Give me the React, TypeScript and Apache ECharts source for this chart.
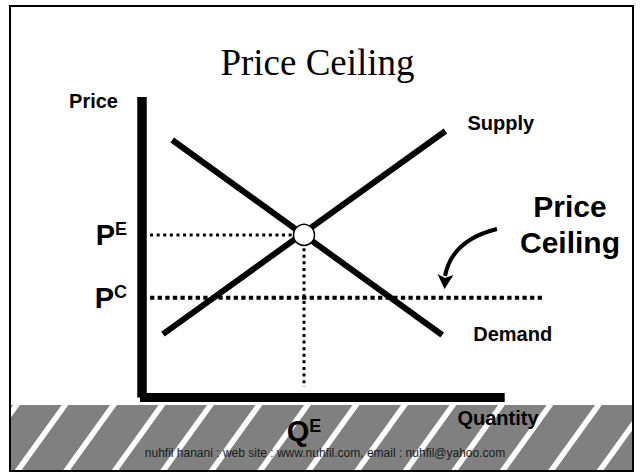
import React, { useEffect, useRef } from "react";
import * as echarts from "echarts";

// ---- data (quantity / price units) ----
const QUANTITY_MAX = 10;
const PRICE_MAX = 10;
const quantityAxisQ = [-0.05, 9];
const demandQ = [0.75, 7.45];
const demandP = [8.57, 2.08];
const supplyQ = [0.52, 7.53];
const supplyP = [2.11, 8.87];
const QE = 4.02;
const PE = 5.41;
const PC = 3.32;
const ceilingQ = [0.2, 9.97];
const equilibriumPriceLineQ = [0.2, QE];
const equilibriumQuantityLineP = [PE, 0.35];
const priceTickLabels = [
  { value: PE, sup: "E" },
  { value: PC, sup: "C" },
];
const quantityTickLabels = [{ value: QE, sup: "E" }];
const TITLE = "Price Ceiling";
const FOOTER = "nuhfil hanani : web site : www.nuhfil.com, email : nuhfil@yahoo.com";

const SANS = "'Liberation Sans', Arial, Helvetica, sans-serif";
const SERIF = "'Liberation Serif', 'Times New Roman', serif";

function buildStripes() {
  const items: any[] = [];
  const top = 405;
  const bottom = 471;
  const shift = 0.72 * (bottom - top);
  const half = 3.4;
  for (let c = 65 - 48.5 * 2; c < 720; c += 48.5) {
    items.push({
      type: "polygon",
      z: 1,
      silent: true,
      shape: {
        points: [
          [c - half, top],
          [c + half, top],
          [c + half - shift, bottom],
          [c - half - shift, bottom],
        ],
      },
      style: { fill: "#ffffff" },
    });
  }
  return items;
}

export default function App() {
  const ref = useRef<HTMLDivElement>(null);
  useEffect(() => {
    if (!ref.current) return;
    const chart = echarts.init(ref.current, undefined, { renderer: "svg" });
    const zip = (a: number[], b: number[]) => a.map((v, i) => [v, b[i]]);
    const richSup = {
      p: { fontFamily: SANS, fontWeight: "bold", fontSize: 29, lineHeight: 29, color: "#000" },
      e: {
        fontFamily: SANS,
        fontWeight: "bold",
        fontSize: 18,
        lineHeight: 20,
        verticalAlign: "top",
        color: "#000",
      },
    };
    const option: any = {
      animation: false,
      backgroundColor: "#ffffff",
      grid: { left: 142, top: 97, width: 403, height: 300.5, containLabel: false },
      xAxis: {
        type: "value",
        min: 0,
        max: QUANTITY_MAX,
        axisLine: { show: false },
        axisTick: { show: false },
        axisLabel: { show: false },
        splitLine: { show: false },
      },
      yAxis: {
        type: "value",
        min: 0,
        max: PRICE_MAX,
        axisLine: { show: true, onZero: false, lineStyle: { color: "#000", width: 9.5, cap: "butt" } },
        axisTick: { show: false },
        axisLabel: { show: false },
        splitLine: { show: false },
        name: "Price",
        nameLocation: "end",
        nameGap: -13.8,
        nameTextStyle: {
          color: "#000",
          fontFamily: SANS,
          fontWeight: "bold",
          fontSize: 20,
          align: "right",
          verticalAlign: "bottom",
          padding: [0, 24, 0, 0],
        },
      },
      series: [
        {
          name: "Quantity axis",
          type: "line",
          data: zip(quantityAxisQ, [0, 0]),
          symbol: "none",
          clip: false,
          z: 4,
          lineStyle: { color: "#000", width: 9, cap: "butt" },
        },
        {
          name: "Price ceiling",
          type: "line",
          data: zip(ceilingQ, [PC, PC]),
          symbol: "none",
          clip: false,
          z: 2,
          lineStyle: { color: "#000", width: 4, type: [4.3, 3.3], cap: "butt" },
        },
        {
          name: "Equilibrium price",
          type: "line",
          data: zip(equilibriumPriceLineQ, [PE, PE]),
          symbol: "none",
          clip: false,
          z: 2,
          lineStyle: { color: "#000", width: 3, type: [3, 3.6], cap: "butt" },
        },
        {
          name: "Equilibrium quantity",
          type: "line",
          data: zip([QE, QE], equilibriumQuantityLineP),
          symbol: "none",
          clip: false,
          z: 2,
          lineStyle: { color: "#000", width: 3, type: [3, 3.6], cap: "butt" },
        },
        {
          name: "Demand",
          type: "line",
          data: zip(demandQ, demandP),
          symbol: "none",
          clip: false,
          z: 3,
          lineStyle: { color: "#000", width: 6, cap: "butt" },
          endLabel: {
            show: true,
            formatter: "Demand",
            distance: 0,
            offset: [31, -1],
            color: "#000",
            fontFamily: SANS,
            fontWeight: "bold",
            fontSize: 20,
          },
        },
        {
          name: "Supply",
          type: "line",
          data: zip(supplyQ, supplyP),
          symbol: "none",
          clip: false,
          z: 3,
          lineStyle: { color: "#000", width: 6, cap: "butt" },
          endLabel: {
            show: true,
            formatter: "Supply",
            distance: 0,
            offset: [22, -8],
            color: "#000",
            fontFamily: SANS,
            fontWeight: "bold",
            fontSize: 20,
          },
        },
        {
          name: "Equilibrium",
          type: "scatter",
          data: [[QE, PE]],
          symbol: "circle",
          symbolSize: 21,
          clip: false,
          z: 5,
          itemStyle: { color: "#ffffff", borderColor: "#000", borderWidth: 1.5, opacity: 1 },
          emphasis: { disabled: true },
        },
        {
          name: "Price labels",
          type: "scatter",
          data: priceTickLabels.map((d) => ({ value: [0, d.value], sup: d.sup })),
          symbolSize: 0,
          clip: false,
          z: 6,
          itemStyle: { opacity: 1 },
          label: {
            show: true,
            position: "left",
            distance: 15,
            formatter: (p: any) => `{p|P}{e|${p.data.sup}}`,
            rich: richSup,
          },
        },
        {
          name: "Quantity labels",
          type: "scatter",
          data: quantityTickLabels.map((d) => ({ value: [d.value, 0], sup: d.sup })),
          symbolSize: 0,
          clip: false,
          z: 6,
          itemStyle: { opacity: 1 },
          label: {
            show: true,
            position: "bottom",
            distance: 19,
            formatter: (p: any) => `{p|Q}{e|${p.data.sup}}`,
            rich: richSup,
          },
        },
      ],
      graphic: [
        {
          type: "rect",
          z: 0,
          silent: true,
          shape: { x: 10, y: 405, width: 623, height: 66 },
          style: { fill: "#808080" },
        },
        ...buildStripes(),
        {
          type: "rect",
          z: 2,
          silent: true,
          shape: { x: 0, y: 400, width: 10, height: 74 },
          style: { fill: "#ffffff" },
        },
        {
          type: "rect",
          z: 2,
          silent: true,
          shape: { x: 633, y: 400, width: 7, height: 74 },
          style: { fill: "#ffffff" },
        },
        {
          type: "rect",
          z: 3,
          silent: true,
          shape: { x: 10, y: 6, width: 623, height: 465 },
          style: { fill: null, stroke: "#000", lineWidth: 2 },
        },
        {
          type: "text",
          z: 4,
          x: 317.5,
          y: 62.5,
          style: {
            text: TITLE,
            fontFamily: SERIF,
            fontSize: 37,
            fontWeight: "normal",
            fill: "#000",
            align: "center",
            verticalAlign: "middle",
          },
        },
        {
          type: "text",
          z: 4,
          x: 498,
          y: 418,
          style: {
            text: "Quantity",
            fontFamily: SANS,
            fontSize: 20,
            fontWeight: "bold",
            fill: "#000",
            align: "center",
            verticalAlign: "middle",
          },
        },
        {
          type: "text",
          z: 4,
          x: 570,
          y: 206.3,
          style: {
            text: "Price",
            fontFamily: SANS,
            fontSize: 30,
            fontWeight: "bold",
            fill: "#000",
            align: "center",
            verticalAlign: "middle",
          },
        },
        {
          type: "text",
          z: 4,
          x: 570,
          y: 242.9,
          style: {
            text: "Ceiling",
            fontFamily: SANS,
            fontSize: 30,
            fontWeight: "bold",
            fill: "#000",
            align: "center",
            verticalAlign: "middle",
          },
        },
        {
          type: "bezierCurve",
          z: 4,
          silent: true,
          shape: { x1: 497, y1: 229, x2: 445, y2: 276, cpx1: 452, cpy1: 240 },
          style: { stroke: "#000", lineWidth: 4, fill: null },
        },
        {
          type: "polygon",
          z: 4,
          silent: true,
          shape: { points: [[437.5, 274], [445, 278], [453.5, 275], [444.5, 289]] },
          style: { fill: "#000" },
        },
        {
          type: "text",
          z: 4,
          x: 325,
          y: 453,
          style: {
            text: FOOTER,
            fontFamily: SANS,
            fontSize: 12,
            fontWeight: "normal",
            fill: "#1a1a1a",
            align: "center",
            verticalAlign: "middle",
          },
        },
      ],
    };
    chart.setOption(option);
    return () => chart.dispose();
  }, []);
  return (
    <div
      ref={ref}
      style={{ position: "fixed", left: 0, top: 0, width: 640, height: 474, background: "#fff" }}
    />
  );
}
